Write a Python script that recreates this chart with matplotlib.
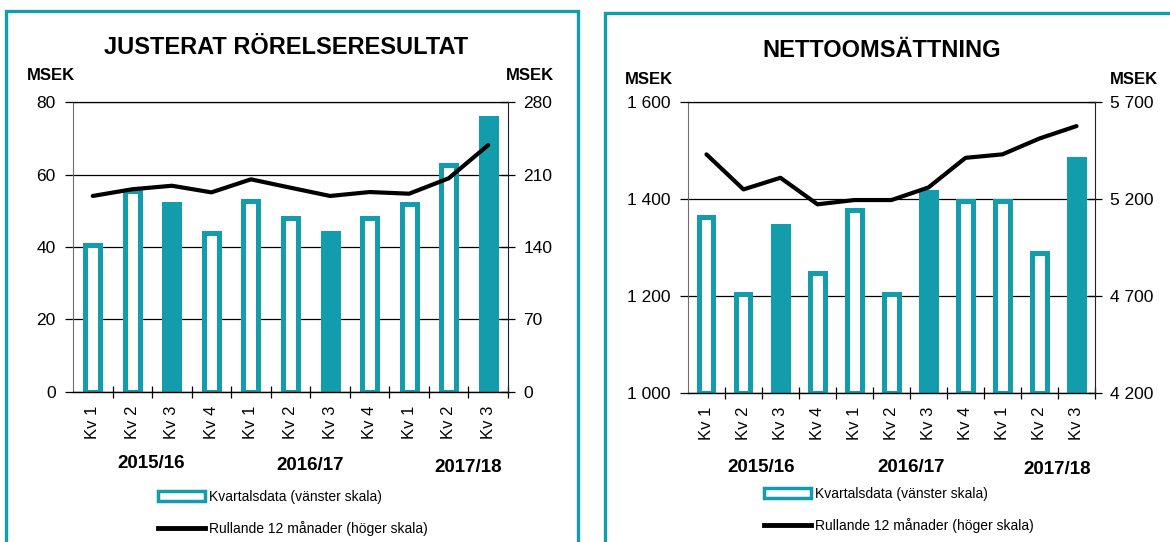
import matplotlib.pyplot as plt
from matplotlib.patches import Rectangle, Patch
from matplotlib.lines import Line2D

plt.rcParams['font.family'] = ['Liberation Sans', 'DejaVu Sans']

quarters = ['Kv 1', 'Kv 2', 'Kv 3', 'Kv 4', 'Kv 1', 'Kv 2', 'Kv 3', 'Kv 4', 'Kv 1', 'Kv 2', 'Kv 3']
years = ['2015/16', '2016/17', '2017/18']
highlight = [False, False, True, False, False, False, True, False, False, False, True]

# justerat rörelseresultat, MSEK
ebit_quarter = [40.5, 55.6, 51.8, 43.9, 52.7, 48.0, 43.9, 48.0, 51.8, 62.7, 75.7]
ebit_rolling = [189.5, 196, 199.4, 193, 205.6, 197.5, 189.5, 193.3, 191.7, 206.6, 238.8]
ebit_left_ticks = [0, 20, 40, 60, 80]
ebit_right_ticks = [0, 70, 140, 210, 280]

# nettoomsättning, MSEK
sales_quarter = [1364, 1203, 1345, 1247, 1378, 1203, 1415, 1397, 1397, 1289, 1483]
sales_rolling = [5431, 5250, 5310, 5173, 5195, 5195, 5260, 5413, 5431, 5513, 5577]
sales_left_ticks = [1000, 1200, 1400, 1600]
sales_right_ticks = [4200, 4700, 5200, 5700]

teal = '#139dac'

fig = plt.figure(figsize=(11.7, 5.42), dpi=100)


def fmt(v):
    return f'{v:,}'.replace(',', ' ')


def panel(rect, title, bars, line, lticks, rticks, title_xy, msek_xy, year_xy, leg_xy):
    ax = fig.add_axes(rect)
    x = list(range(len(bars)))
    base = lticks[0]
    for i, v in enumerate(bars):
        ax.bar(i, v - base, bottom=base, width=0.38,
               facecolor=teal if highlight[i] else 'white',
               edgecolor=teal, linewidth=3.6, zorder=2)
    ax.set_xlim(-0.5, len(bars) - 0.5)
    ax.set_ylim(lticks[0], lticks[-1])
    ax.set_yticks(lticks)
    ax.set_yticklabels([fmt(v) for v in lticks], fontsize=12.5)
    ax.set_xticks(x)
    ax.set_xticklabels(quarters, rotation=90, fontsize=12)
    ax.set_xticks([i - 0.5 for i in range(1, len(bars) + 1)], minor=True)
    ax.tick_params(axis='x', which='major', length=0, pad=10)
    ax.tick_params(axis='x', which='minor', direction='inout', length=9, width=0.9)
    ax.tick_params(axis='y', direction='out', length=5.5, width=0.9, pad=7)
    ax.grid(axis='y', color='black', linewidth=0.9)
    ax.set_axisbelow(True)
    ax.spines['left'].set_color('#6e6e6e')
    ax.spines['right'].set_visible(False)
    ax.spines['top'].set_linewidth(0.9)
    ax.spines['bottom'].set_linewidth(1.0)

    ax2 = ax.twinx()
    ax2.plot(x, line, color='black', linewidth=3.0, solid_capstyle='round', zorder=3)
    ax2.set_ylim(rticks[0], rticks[-1])
    ax2.set_yticks(rticks)
    ax2.set_yticklabels([fmt(v) for v in rticks], fontsize=12.5)
    ax2.tick_params(axis='y', direction='inout', length=10, width=0.9, pad=6)
    for s in ['left', 'top', 'bottom']:
        ax2.spines[s].set_visible(False)
    ax2.spines['right'].set_color('#222222')

    fig.text(title_xy[0] / 1170, 1 - title_xy[1] / 542, title, fontsize=17,
             fontweight='bold', ha='center', va='center')
    for mx in msek_xy[:2]:
        fig.text(mx / 1170, 1 - msek_xy[2] / 542, 'MSEK', fontsize=12,
                 fontweight='bold', ha='left', va='center')
    for yr, (px, py) in zip(years, year_xy):
        fig.text(px / 1170, 1 - py / 542, yr, fontsize=13.5, fontweight='bold',
                 ha='center', va='center')
    handles = [Patch(facecolor='white', edgecolor=teal, linewidth=2.5),
               Line2D([], [], color='black', linewidth=3.5)]
    fig.legend(handles, ['Kvartalsdata (vänster skala)', 'Rullande 12 månader (höger skala)'],
               loc='center left', bbox_to_anchor=(leg_xy[0] / 1170, 1 - leg_xy[1] / 542),
               frameon=False, fontsize=10, borderaxespad=0, borderpad=0,
               handlelength=3.4, handletextpad=0.25, labelspacing=1.2, handleheight=0.75)
    return ax, ax2


panel([0.0624, 0.2773, 0.3718, 0.5336], 'JUSTERAT RÖRELSERESULTAT',
      ebit_quarter, ebit_rolling, ebit_left_ticks, ebit_right_ticks,
      (286, 48), (27, 506, 76), [(151, 464), (310, 465), (468, 468)], (158, 513))
panel([0.5880, 0.2755, 0.3479, 0.5358], 'NETTOOMSÄTTNING',
      sales_quarter, sales_rolling, sales_left_ticks, sales_right_ticks,
      (882, 51), (625, 1110, 79), [(761, 468), (911, 468), (1057, 470)], (764, 510))

# teal panel frames
fig.add_artist(Rectangle((6 / 1170, -0.05), 572 / 1170, 1.05 - 11 / 542, transform=fig.transFigure,
                         fill=False, edgecolor=teal, linewidth=2.4))
fig.add_artist(Rectangle((605 / 1170, -0.05), 600 / 1170, 1.05 - 13 / 542, transform=fig.transFigure,
                         fill=False, edgecolor=teal, linewidth=2.4))

fig.savefig('out.png', dpi=100)
